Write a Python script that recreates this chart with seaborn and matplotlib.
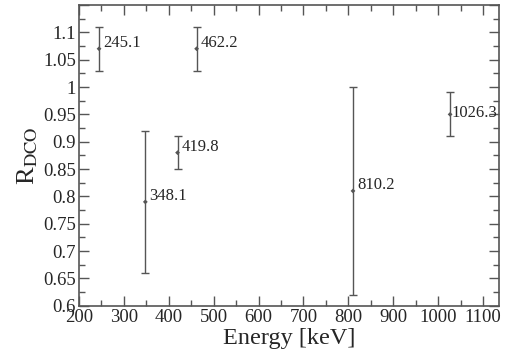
import matplotlib
matplotlib.use("Agg")
import matplotlib.pyplot as plt
import seaborn as sns
import pandas as pd
from matplotlib.ticker import MultipleLocator, FuncFormatter

energy = [245.1, 348.1, 419.8, 462.2, 810.2, 1026.3]
r_dco = [1.07, 0.79, 0.88, 1.07, 0.81, 0.95]
r_err = [0.04, 0.13, 0.03, 0.04, 0.19, 0.04]
labels = ["245.1", "348.1", "419.8", "462.2", "810.2", "1026.3"]

df = pd.DataFrame({"energy": energy, "r_dco": r_dco, "err": r_err, "label": labels})

sns.set_style("ticks")
plt.rcParams["font.family"] = ["Liberation Serif", "DejaVu Serif"]
plt.rcParams["mathtext.fontset"] = "stix"

fig = plt.figure(figsize=(5.05, 3.56), dpi=100)
ax = fig.add_axes([0.156, 0.141, 0.832, 0.845])

ax.errorbar(df["energy"], df["r_dco"], yerr=df["err"], fmt="none",
            ecolor="#555555", elinewidth=1.0, capsize=3, capthick=1.0)
sns.scatterplot(data=df, x="energy", y="r_dco", ax=ax, s=6, marker="D",
                color="#555555", edgecolor="none", legend=False, zorder=3)
for _, row in df.iterrows():
    if row["label"] == "1026.3":
        off = (1, 1)
    else:
        off = (3, 4)
    ax.annotate(row["label"], (row["energy"], row["r_dco"]), xytext=off,
                textcoords="offset points", fontsize=12, va="center", ha="left")


def ylab(v, p):
    if v > 1.12:
        return ""
    return f"{v:.2f}".rstrip("0").rstrip(".")


ax.set_xlim(200, 1135)
ax.set_ylim(0.6, 1.15)
ax.xaxis.set_major_locator(MultipleLocator(100))
ax.xaxis.set_minor_locator(MultipleLocator(50))
ax.yaxis.set_major_locator(MultipleLocator(0.05))
ax.yaxis.set_minor_locator(MultipleLocator(0.025))
ax.yaxis.set_major_formatter(FuncFormatter(ylab))
ax.tick_params(which="both", direction="in", top=True, right=True, labelsize=13.5,
               color="#555555", pad=2)
ax.tick_params(which="major", length=7, width=1)
ax.tick_params(which="minor", length=4, width=1)
for s in ax.spines.values():
    s.set_color("#555555")
    s.set_linewidth(1.2)

ax.set_xlabel("Energy [keV]", fontsize=17.5, labelpad=2)
ax.set_ylabel(r"R$_{\mathrm{DCO}}$", fontsize=19, labelpad=2)

fig.savefig("out.png", dpi=100)
